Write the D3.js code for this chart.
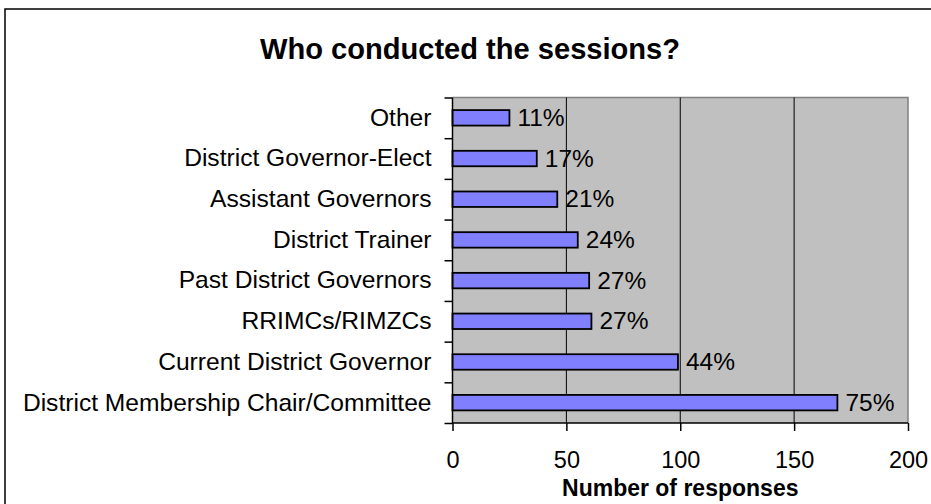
<!DOCTYPE html>
<html><head><meta charset="utf-8">
<script src="https://cdn.jsdelivr.net/npm/d3@7"></script>
<style>
html,body{margin:0;padding:0;background:#fff;}
svg{display:block;font-family:"Liberation Sans",Arial,sans-serif;}
</style></head>
<body>
<svg id="c" width="931" height="504"></svg>
<script>
const categories = ["Other","District Governor-Elect","Assistant Governors","District Trainer","Past District Governors","RRIMCs/RIMZCs","Current District Governor","District Membership Chair/Committee"];
const responses = [25, 37, 46, 55, 60, 61, 99, 169];
const percentLabels = ["11%","17%","21%","24%","27%","27%","44%","75%"];
const xTicks = [0, 50, 100, 150, 200];
const titleText = "Who conducted the sessions?";
const xTitle = "Number of responses";

const svg = d3.select("#c");
const L = 452.5, R = 908, T = 97.5, B = 423;

// outer frame
svg.append("rect").attr("x",5).attr("y",9).attr("width",960).attr("height",520)
  .attr("fill","#fff").attr("stroke","#000").attr("stroke-width",1.5);

svg.append("text").attr("x",470).attr("y",59).attr("text-anchor","middle")
  .attr("font-size",29).attr("font-weight","bold").attr("textLength",420)
  .attr("lengthAdjust","spacingAndGlyphs").text(titleText);

const x = d3.scaleLinear().domain([0,200]).range([L,R]);
const y = d3.scaleBand().domain(categories).range([T,B]).paddingInner(0.62).paddingOuter(0.31);

// plot background
svg.append("rect").attr("x",L).attr("y",T).attr("width",R-L).attr("height",B-T).attr("fill","#C0C0C0");
// top/right plot border
svg.append("path").attr("d",`M${L},${T}H${R}V${B}`).attr("fill","none").attr("stroke","#808080").attr("stroke-width",1.5);

// gridlines
svg.append("g").selectAll("line").data(xTicks.filter(d=>d>0 && d<200)).join("line")
  .attr("x1",d=>x(d)).attr("x2",d=>x(d)).attr("y1",T).attr("y2",B)
  .attr("stroke","#000").attr("stroke-width",1);

// bars
svg.append("g").selectAll("rect").data(responses).join("rect")
  .attr("x",x(0)).attr("y",(d,i)=>y(categories[i]))
  .attr("width",d=>x(d)-x(0)).attr("height",y.bandwidth())
  .attr("fill","#8080FF").attr("stroke","#000").attr("stroke-width",1.8);

// percent labels
svg.append("g").selectAll("text").data(responses).join("text")
  .attr("x",d=>x(d)+8).attr("y",(d,i)=>y(categories[i])+y.bandwidth()/2)
  .attr("dy","0.33em").attr("font-size",24.5).attr("fill","#000")
  .text((d,i)=>percentLabels[i]);

// left axis: boundary ticks
const yb = d3.scaleLinear().domain([0,categories.length]).range([T,B]);
const gl = svg.append("g").attr("transform",`translate(${L},0)`)
  .call(d3.axisLeft(yb).tickValues(d3.range(categories.length+1)).tickSize(8).tickFormat(""));
gl.selectAll("path,line").attr("stroke","#000").attr("stroke-width",1.5);
gl.select(".domain").attr("d",`M0,${T}V${B}`);

// category labels
const gc = svg.append("g").attr("transform",`translate(${L},0)`)
  .call(d3.axisLeft(y).tickSize(0).tickPadding(21));
gc.select(".domain").remove();
gc.selectAll("text").attr("font-size",24.6).attr("font-family","'Liberation Sans',Arial,sans-serif").attr("fill","#000");

// bottom axis
const gx = svg.append("g").attr("transform",`translate(0,${B})`)
  .call(d3.axisBottom(x).tickValues(xTicks).tickSize(8).tickPadding(20));
gx.selectAll("path,line").attr("stroke","#000").attr("stroke-width",1.5);
gx.select(".domain").attr("d",`M${L},0H${R}`);
gx.selectAll("text").attr("font-size",23.5).attr("font-family","'Liberation Sans',Arial,sans-serif").attr("fill","#000");

svg.append("text").attr("x",(L+R)/2).attr("y",496).attr("text-anchor","middle")
  .attr("font-size",23).attr("font-weight","bold").text(xTitle);
</script>
</body></html>
